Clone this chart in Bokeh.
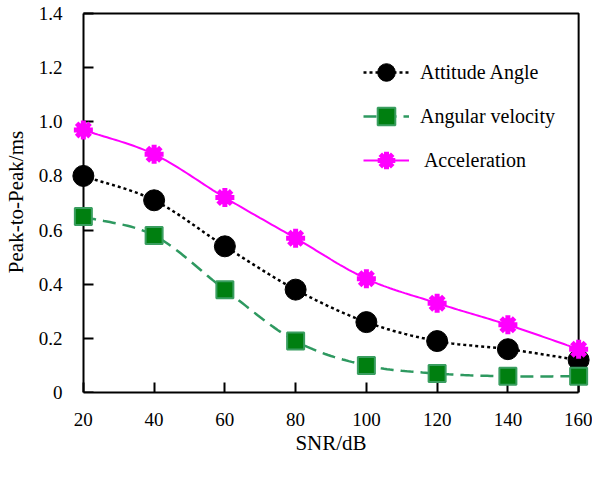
from bokeh.plotting import figure
from bokeh.models import Range1d, FixedTicker, Legend, LegendItem, LinearAxis
from bokeh.embed import file_html
from bokeh.resources import INLINE
import numpy as np

snr = [20, 40, 60, 80, 100, 120, 140, 160]
attitude = [0.80, 0.71, 0.54, 0.38, 0.26, 0.19, 0.16, 0.12]
angular = [0.65, 0.58, 0.38, 0.19, 0.10, 0.07, 0.06, 0.06]
accel = [0.97, 0.88, 0.72, 0.57, 0.42, 0.33, 0.25, 0.16]
y_ticks = [0, 0.2, 0.4, 0.6, 0.8, 1.0, 1.2, 1.4]
x_ticks = [20, 40, 60, 80, 100, 120, 140, 160]
series_names = ["Attitude Angle", "Angular velocity", " Acceleration"]

FONT = "Liberation Serif"

# layout (pixels, figure coordinates)
W, H = 592, 465
BOX_L, BOX_R, BOX_T, BOX_B = 76, 578, 13, 392
PAD_L, PAD_R, PAD_T = 10, 10, 2      # room so edge markers are not clipped

x0, x1 = x_ticks[0], x_ticks[-1]
y0, y1 = y_ticks[0], y_ticks[-1]
ux = (x1 - x0) / (BOX_R - BOX_L)
uy = (y1 - y0) / (BOX_B - BOX_T)


def smooth(xs, ys, n=24):
    """Catmull-Rom rendering of a polyline through the data points."""
    x = np.asarray(xs, float)
    y = np.asarray(ys, float)
    px = np.concatenate([[2 * x[0] - x[1]], x, [2 * x[-1] - x[-2]]])
    py = np.concatenate([[2 * y[0] - y[1]], y, [2 * y[-1] - y[-2]]])
    ox, oy = [], []
    t = np.linspace(0, 1, n, endpoint=False)
    for i in range(1, len(px) - 2):
        for arr, out in ((px, ox), (py, oy)):
            p0, p1, p2, p3 = arr[i - 1], arr[i], arr[i + 1], arr[i + 2]
            out.extend(0.5 * ((2 * p1) + (-p0 + p2) * t
                              + (2 * p0 - 5 * p1 + 4 * p2 - p3) * t ** 2
                              + (-p0 + 3 * p1 - 3 * p2 + p3) * t ** 3))
    ox.append(x[-1]); oy.append(y[-1])
    return ox, oy


p = figure(width=W, height=H, output_backend="svg", toolbar_location=None,
           x_range=Range1d(x0 - PAD_L * ux, x1 + PAD_R * ux),
           y_range=Range1d(y0, y1 + PAD_T * uy))
p.min_border_left = BOX_L - PAD_L
p.min_border_right = W - BOX_R - PAD_R
p.min_border_top = BOX_T - PAD_T
p.min_border_bottom = H - BOX_B
p.grid.visible = False
p.outline_line_color = None
p.background_fill_color = "white"
p.border_fill_color = "white"

xa = p.xaxis[0]
ya = p.yaxis[0]          # labels + title only (sits at the frame edge)
ya_line = LinearAxis(fixed_location=x0)   # line + ticks at x = 20
p.add_layout(ya_line, "left")

for ax in (xa, ya, ya_line):
    ax.axis_line_width = 2
    ax.axis_line_color = "black"
    ax.major_tick_line_width = 2
    ax.major_tick_line_color = "black"
    ax.major_tick_in = 10
    ax.major_tick_out = 0
    ax.minor_tick_line_color = None
    ax.major_label_text_font = FONT
    ax.major_label_text_font_size = "19px"
    ax.major_label_text_color = "black"
    ax.axis_label_text_font = FONT
    ax.axis_label_text_font_size = "21px"
    ax.axis_label_text_font_style = "normal"
    ax.axis_label_text_color = "black"

xa.bounds = (x0, x1)
xa.ticker = FixedTicker(ticks=x_ticks)
xa.axis_label = "SNR/dB"
xa.major_label_standoff = 20
xa.axis_label_standoff = 2

ya.ticker = FixedTicker(ticks=y_ticks)
ya.axis_line_color = None
ya.major_tick_line_color = None
ya.major_tick_in = 0
ya.major_label_overrides = {t: ("0" if t == 0 else f"{t:.1f}") for t in y_ticks}
ya.axis_label = "Peak-to-Peak/ms"
ya.major_label_standoff = 11
ya.axis_label_standoff = 8

ya_line.ticker = FixedTicker(ticks=y_ticks)
ya_line.bounds = (y0, y1)
ya_line.major_label_text_color = None
ya_line.axis_label = None

# top and right edges of the plot box
p.line([x0, x1, x1], [y1, y1, y0], line_color="black", line_width=2)

# Attitude angle
sx, sy = smooth(snr, attitude)
l1 = p.line(sx, sy, line_color="black", line_width=2.5, line_dash="3 3")
m1 = p.scatter(snr, attitude, marker="circle", size=21, fill_color="black",
               line_color="black", level="overlay")

# Angular velocity
sx, sy = smooth(snr, angular)
l2 = p.line(sx, sy, line_color="#2E9960", line_width=2.5, line_dash="13 7")
m2 = p.scatter(snr, angular, marker="square", size=17, fill_color="#007F10",
               line_color="#3A9E60", line_width=2, level="overlay")

# Acceleration
sx, sy = smooth(snr, accel)
l3 = p.line(sx, sy, line_color="#FF00FF", line_width=2)
m3a = p.scatter(snr, accel, marker="circle", size=13, fill_color="#FF00FF",
                line_color="#FF00FF", level="overlay")
m3b = p.scatter(snr, accel, marker="asterisk", size=19, line_color="#FF00FF",
                line_width=5, level="overlay")

legend = Legend(items=[
    LegendItem(label=series_names[0], renderers=[l1, m1]),
    LegendItem(label=series_names[1], renderers=[l2, m2]),
    LegendItem(label=series_names[2], renderers=[l3, m3b]),
], location=(290, 210))
legend.border_line_color = None
legend.background_fill_alpha = 0
legend.padding = 0
legend.margin = 0
legend.glyph_width = 46
legend.glyph_height = 44
legend.label_height = 44
legend.label_standoff = 11
legend.spacing = 0
legend.label_text_font = FONT
legend.label_text_font_size = "20px"
legend.label_text_color = "black"
p.add_layout(legend, "center")

open("out.html", "w").write(file_html(p, INLINE))
